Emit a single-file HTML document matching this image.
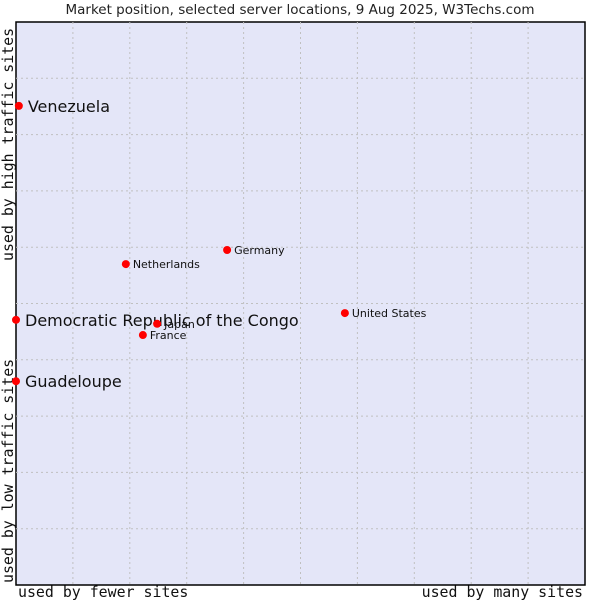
<!DOCTYPE html>
<html><head><meta charset="utf-8"><style>
body{margin:0;background:#fff;}
svg{display:block;font-family:"DejaVu Sans","Liberation Sans",sans-serif;}
</style></head><body>
<svg id="chart" width="600" height="600">
<text x="300" y="14" text-anchor="middle" font-size="13.5" fill="#222">Market position, selected server locations, 9 Aug 2025, W3Techs.com</text>
<rect x="16" y="22" width="569" height="563" fill="#e4e6f8" stroke="#000" stroke-width="1.5"/>
<g id="grid"></g>
<text x="18" y="597" font-size="14.9" font-family="DejaVu Sans Mono,monospace" fill="#111">used by fewer sites</text>
<text x="583" y="597" text-anchor="end" font-size="14.9" font-family="DejaVu Sans Mono,monospace" fill="#111">used by many sites</text>
<text transform="translate(13,583) rotate(-90)" font-size="14.9" font-family="DejaVu Sans Mono,monospace" fill="#111">used by low traffic sites</text>
<text transform="translate(13,261) rotate(-90)" font-size="14.9" font-family="DejaVu Sans Mono,monospace" fill="#111">used by high traffic sites</text>
<g id="points"></g>
</svg>
<script>
const names = ["Venezuela","Democratic Republic of the Congo","Guadeloupe","Netherlands","Germany","Japan","France","United States"];
const xVals = [0.5,0,0,19.3,37.1,24.8,22.3,57.8];
const yVals = [85.1,47.1,36.2,57,59.5,46.4,44.4,48.3];
const big = [true,true,true,false,false,false,false,false];
const NS="http://www.w3.org/2000/svg";
const X0=16,X1=585,Y0=585,Y1=22;
function sx(v){return X0+v/100*(X1-X0);}
function sy(v){return Y0-v/100*(Y0-Y1);}
const grid=document.getElementById('grid');
for(let i=1;i<10;i++){
  const v=document.createElementNS(NS,'line');
  v.setAttribute('x1',sx(i*10));v.setAttribute('x2',sx(i*10));v.setAttribute('y1',Y1);v.setAttribute('y2',Y0);
  v.setAttribute('stroke','#c0c0c0');v.setAttribute('stroke-dasharray','2,3');
  
  
  grid.appendChild(v);
  const h=document.createElementNS(NS,'line');
  h.setAttribute('y1',sy(i*10));h.setAttribute('y2',sy(i*10));h.setAttribute('x1',X0);h.setAttribute('x2',X1);
  h.setAttribute('stroke','#c0c0c0');h.setAttribute('stroke-dasharray','2,3');
  
  
  grid.appendChild(h);
}
const pts=document.getElementById('points');
names.forEach((n,i)=>{
  const x=sx(xVals[i]),y=sy(yVals[i]);
  const c=document.createElementNS(NS,'circle');
  c.setAttribute('cx',x);c.setAttribute('cy',y);c.setAttribute('r',4);
  c.setAttribute('fill','#ff0000');
  
  
  pts.appendChild(c);
  const t=document.createElementNS(NS,'text');
  t.setAttribute('x',x+(big[i]?9:7));t.setAttribute('y',y+(big[i]?6:4));
  t.setAttribute('font-size',big[i]?16:11);t.setAttribute('fill','#111');
  t.textContent=n;
  
  
  pts.appendChild(t);
});
</script>
</body></html>
